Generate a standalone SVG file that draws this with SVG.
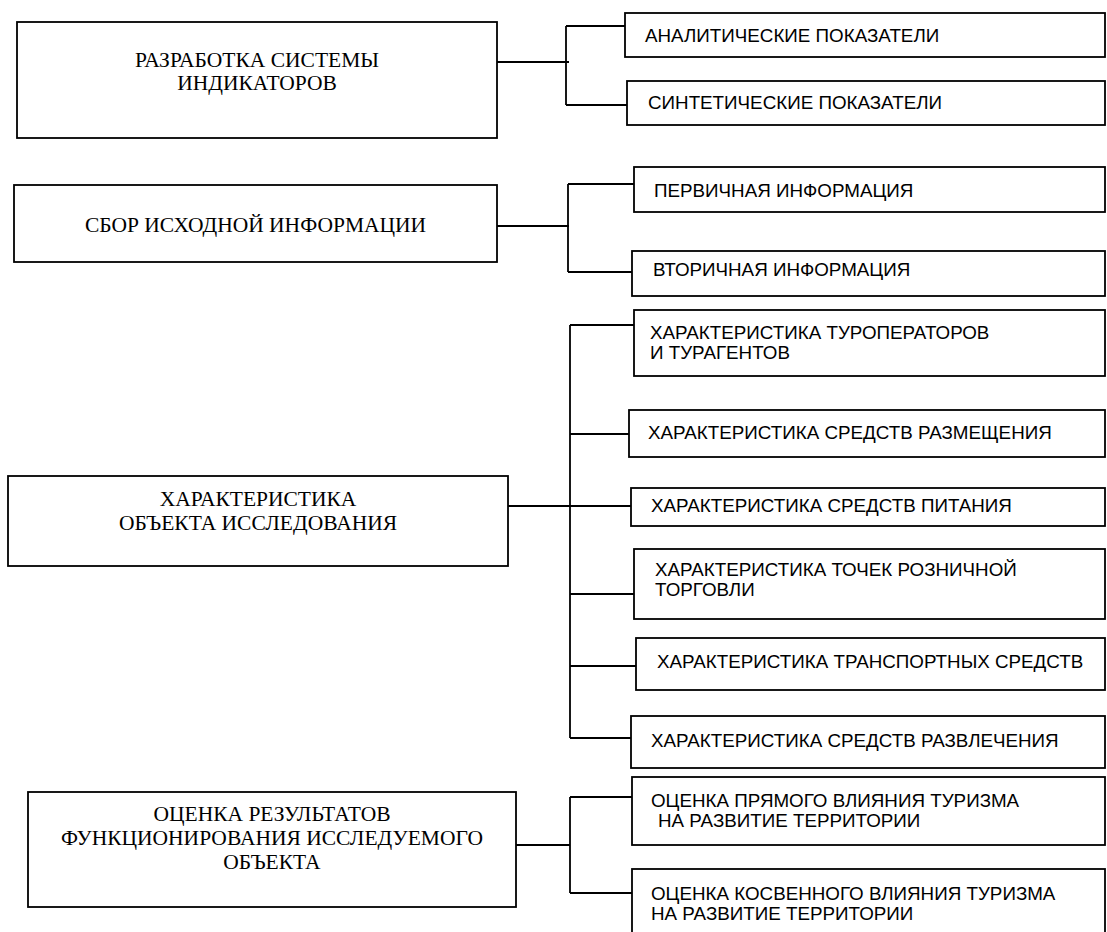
<svg xmlns="http://www.w3.org/2000/svg" width="1107" height="932" viewBox="0 0 1107 932">
<style>
.box{fill:#fff;stroke:#000;stroke-width:1.8}
.ln{fill:none;stroke:#000;stroke-width:1.8}
.serif{font-family:"Liberation Serif","Times New Roman",serif;font-size:21.5px;fill:#000;text-anchor:middle}
.sans{font-family:"Liberation Sans",Arial,sans-serif;font-size:18.8px;fill:#000}
</style>
<rect width="1107" height="932" fill="#fff"/>
<g id="connectors">
<path class="ln" d="M497 62H569M566 26V105M566 26H628M566 105H630"/>
<path class="ln" d="M497 226H569M568 184V272M568 184H636M568 272H634"/>
<path class="ln" d="M508 506H633M570 325V738M570 325H636M570 434H632M570 594H637M570 666H639M570 738H633"/>
<path class="ln" d="M516 845H570M570 797V893M570 797H635M570 893H635"/>
</g>
<g id="n-razrabotka"><rect class="box" x="17" y="22" width="480" height="116"/><text class="serif" x="257" y="67">РАЗРАБОТКА СИСТЕМЫ</text><text class="serif" x="257" y="90">ИНДИКАТОРОВ</text></g>
<g id="n-sbor"><rect class="box" x="14" y="185" width="483" height="77"/><text class="serif" x="255.5" y="232">СБОР ИСХОДНОЙ ИНФОРМАЦИИ</text></g>
<g id="n-harakt"><rect class="box" x="8" y="476" width="500" height="90"/><text class="serif" x="258" y="506">ХАРАКТЕРИСТИКА</text><text class="serif" x="258" y="530">ОБЪЕКТА ИССЛЕДОВАНИЯ</text></g>
<g id="n-ocenka"><rect class="box" x="28" y="792" width="488" height="115"/><text class="serif" x="272" y="821">ОЦЕНКА РЕЗУЛЬТАТОВ</text><text class="serif" x="272" y="845">ФУНКЦИОНИРОВАНИЯ ИССЛЕДУЕМОГО</text><text class="serif" x="272" y="869">ОБЪЕКТА</text></g>
<g id="n-analit"><rect class="box" x="625" y="13" width="480" height="44"/><text class="sans" x="645" y="42">АНАЛИТИЧЕСКИЕ ПОКАЗАТЕЛИ</text></g>
<g id="n-sintet"><rect class="box" x="627" y="81" width="478" height="44"/><text class="sans" x="648" y="109">СИНТЕТИЧЕСКИЕ ПОКАЗАТЕЛИ</text></g>
<g id="n-pervich"><rect class="box" x="634" y="167" width="471" height="45"/><text class="sans" x="654" y="197">ПЕРВИЧНАЯ ИНФОРМАЦИЯ</text></g>
<g id="n-vtorich"><rect class="box" x="632" y="251" width="473" height="45"/><text class="sans" x="653" y="276">ВТОРИЧНАЯ ИНФОРМАЦИЯ</text></g>
<g id="n-turop"><rect class="box" x="634" y="310" width="471" height="66"/><text class="sans" x="650" y="339">ХАРАКТЕРИСТИКА ТУРОПЕРАТОРОВ</text><text class="sans" x="650" y="359">И ТУРАГЕНТОВ</text></g>
<g id="n-razm"><rect class="box" x="629" y="410" width="476" height="47"/><text class="sans" x="648" y="439">ХАРАКТЕРИСТИКА СРЕДСТВ РАЗМЕЩЕНИЯ</text></g>
<g id="n-pit"><rect class="box" x="631" y="488" width="474" height="38"/><text class="sans" x="651" y="512">ХАРАКТЕРИСТИКА СРЕДСТВ ПИТАНИЯ</text></g>
<g id="n-torg"><rect class="box" x="634" y="549" width="471" height="70"/><text class="sans" x="655" y="576">ХАРАКТЕРИСТИКА ТОЧЕК РОЗНИЧНОЙ</text><text class="sans" x="655" y="596">ТОРГОВЛИ</text></g>
<g id="n-transp"><rect class="box" x="636" y="638" width="469" height="52"/><text class="sans" x="657" y="668">ХАРАКТЕРИСТИКА ТРАНСПОРТНЫХ СРЕДСТВ</text></g>
<g id="n-razvl"><rect class="box" x="631" y="716" width="474" height="52"/><text class="sans" x="651" y="747">ХАРАКТЕРИСТИКА СРЕДСТВ РАЗВЛЕЧЕНИЯ</text></g>
<g id="n-pryam"><rect class="box" x="632" y="777" width="473" height="68"/><text class="sans" x="651" y="807">ОЦЕНКА ПРЯМОГО ВЛИЯНИЯ ТУРИЗМА</text><text class="sans" x="658" y="827">НА РАЗВИТИЕ ТЕРРИТОРИИ</text></g>
<g id="n-kosv"><rect class="box" x="632" y="869" width="473" height="90"/><text class="sans" x="651" y="900">ОЦЕНКА КОСВЕННОГО ВЛИЯНИЯ ТУРИЗМА</text><text class="sans" x="651" y="920">НА РАЗВИТИЕ ТЕРРИТОРИИ</text></g>
</svg>
